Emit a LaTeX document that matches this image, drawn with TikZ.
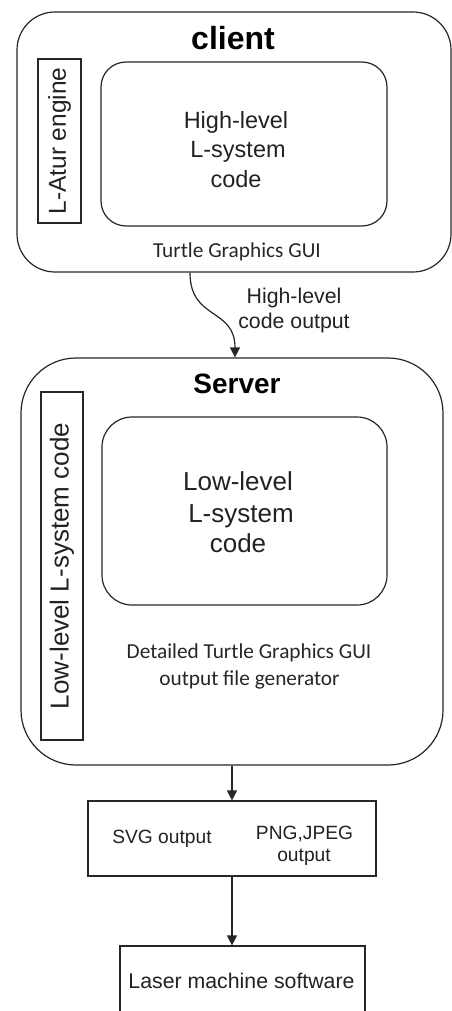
\documentclass[tikz,border=0pt]{standalone}
\usepackage{fontspec}
\setmainfont{Liberation Sans}
\newfontfamily\calfont{Carlito}
\usetikzlibrary{arrows.meta}

\definecolor{ink}{HTML}{262626}
\definecolor{txt}{HTML}{222222}

\tikzset{
  frame/.style={draw=ink, line width=1.2pt, rounded corners=#1, inner sep=0pt},
  plainbox/.style={draw=ink, line width=1.2pt, inner sep=0pt},
  lbl/.style={text=txt, inner sep=0pt, anchor=base},
  flow/.style={draw=ink, line width=1.2pt, -{Triangle[length=10pt,width=10pt]}},
}

\begin{document}
\begin{tikzpicture}[x=1pt, y=-1pt]
  \useasboundingbox (0,0) rectangle (452,1011);
  \clip (0,0) rectangle (452,1011);

  % ---------- client ----------
  \node[frame=38pt, minimum width=434pt, minimum height=260pt] (client) at (234,142) {};
  \node[lbl, text=black, font=\bfseries\fontsize{32}{38}\selectfont] (clienttitle) at (233,50) {client};
  \node[plainbox, rotate=90, minimum width=164pt, minimum height=43pt,
        text=txt, font=\fontsize{24.5}{29}\selectfont] (engine) at (59.5,141) {L-Atur engine};
  \node[frame=25pt, minimum width=286pt, minimum height=164pt] (hlbox) at (244,144) {};
  \node[lbl, font=\fontsize{23.5}{28}\selectfont] (hl1) at (236,129) {High-level};
  \node[lbl, font=\fontsize{23.5}{28}\selectfont] (hl2) at (238,158) {L-system};
  \node[lbl, font=\fontsize{23.5}{28}\selectfont] (hl3) at (236,187) {code};
  \node[lbl, text=ink, font=\calfont\fontsize{21.3}{26}\selectfont] (gui) at (237,257) {Turtle Graphics GUI};

  % ---------- server ----------
  \node[frame=55pt, minimum width=422pt, minimum height=407pt] (server) at (232,561.5) {};
  \node[lbl, text=black, font=\bfseries\fontsize{28}{34}\selectfont] (servertitle) at (237,393) {Server};
  \node[plainbox, rotate=90, minimum width=348pt, minimum height=42pt,
        text=txt, font=\fontsize{26}{31}\selectfont] (llcode) at (62,566) {Low-level L-system code};
  \node[frame=30pt, minimum width=285pt, minimum height=188pt] (llbox) at (244.5,511) {};
  \node[lbl, font=\fontsize{26}{31}\selectfont] (ll1) at (238,490) {Low-level};
  \node[lbl, font=\fontsize{26}{31}\selectfont] (ll2) at (241,522) {L-system};
  \node[lbl, font=\fontsize{26}{31}\selectfont] (ll3) at (238,552) {code};
  \node[lbl, text=ink, font=\calfont\fontsize{21.3}{26}\selectfont] (det1) at (249,658) {Detailed Turtle Graphics GUI};
  \node[lbl, text=ink, font=\calfont\fontsize{21.3}{26}\selectfont] (det2) at (249.5,685) {output file generator};

  % ---------- outputs ----------
  \node[plainbox, minimum width=288pt, minimum height=75pt] (output) at (232,838.5) {};
  \node[lbl, font=\fontsize{19.2}{23}\selectfont] (svg) at (162,843) {SVG output};
  \node[lbl, font=\fontsize{19.2}{23}\selectfont] (png1) at (304.5,839) {PNG,JPEG};
  \node[lbl, font=\fontsize{19.2}{23}\selectfont] (png2) at (304,861) {output};

  \node[plainbox, minimum width=245pt, minimum height=84pt] (laser) at (242.5,988) {};
  \node[lbl, font=\fontsize{21.3}{26}\selectfont] (lasertext) at (241.5,988) {Laser machine software};

  % ---------- connectors ----------
  \draw[flow] ([xshift=-44pt]client.south)
      .. controls ([xshift=-44pt,yshift=-48pt]client.south) and ([xshift=3pt,yshift=50pt]server.north)
      .. ([xshift=3pt]server.north);
  \node[lbl, font=\fontsize{21.3}{26}\selectfont] (cap1) at (294,303) {High-level};
  \node[lbl, font=\fontsize{21.3}{26}\selectfont] (cap2) at (294,328) {code output};

  \draw[flow] (server.south) -- (output.north);
  \draw[flow] (output.south) -- (output.south |- laser.north);
\end{tikzpicture}
\end{document}
